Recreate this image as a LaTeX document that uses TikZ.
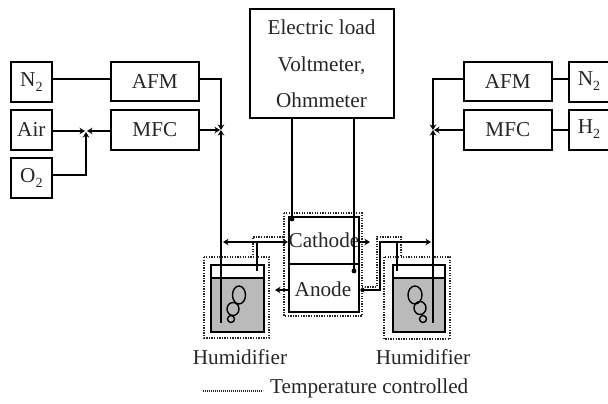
\documentclass[tikz,border=0pt]{standalone}
\usepackage{fontspec}
\setmainfont{Liberation Serif}
\usetikzlibrary{arrows.meta}
\newcommand{\subtwo}{\raisebox{-4.5pt}{\fontsize{14}{14}\selectfont 2}}
\tikzset{
  x=1pt,y=-1pt,
  box/.style={draw,line width=1.7pt,inner sep=0pt,font=\fontsize{21.2}{23}\selectfont,text=black!85},
  lbl/.style={font=\fontsize{21.2}{23}\selectfont,text=black!85,inner sep=0pt},
  pipe/.style={line width=1.7pt},
  arr/.style={pipe,-{Stealth[length=5.5pt,width=6.5pt]}},
  dot/.style={line width=1.7pt,dash pattern=on 1.3pt off 1.3pt,black!85},
  bub/.style={draw,line width=1.4pt}
}
\newcommand{\gbox}[6]{\node[box,minimum width=#4 pt,minimum height=#5 pt,anchor=north west] (#1) at (#2,#3) {#6};}
\begin{document}
\begin{tikzpicture}
\useasboundingbox (0,0) rectangle (608,404);
\clip (0,0) rectangle (608,404);
% gas boxes left
\gbox{nl}{10}{61}{41}{40}{N\subtwo}
\gbox{air}{10}{109}{41}{40}{Air}
\gbox{ox}{10}{157}{41}{40}{O\subtwo}
\gbox{afml}{110}{61}{88}{39}{AFM}
\gbox{mfcl}{110}{109}{88}{40}{MFC}
% right
\gbox{afmr}{463}{61}{88}{39}{AFM}
\gbox{mfcr}{463}{109}{88}{40}{MFC}
\node[box,minimum width=50pt,minimum height=40pt,anchor=north west] (nr) at (568,61) {};
\node[box,minimum width=50pt,minimum height=40pt,anchor=north west] (hr) at (568,109) {};
\node[lbl] (nrt) at (589,81) {N\subtwo};
\node[lbl] (hrt) at (589,129) {H\subtwo};
% load
\node[box,minimum width=144pt,minimum height=109pt,anchor=north west] (load) at (249,8) {};
\node[lbl,anchor=base] (l1) at (321.5,35) {Electric load};
\node[lbl,anchor=base] (l2) at (321.5,71) {Voltmeter,};
\node[lbl,anchor=base] (l3) at (321.5,107) {Ohmmeter};
% dotted
\draw[dot] (284,213) rectangle (362,316);
\draw[dot] (204,257) rectangle (269,338);
\draw[dot] (384,257) rectangle (450,339);
\draw[dot] (253,255) -- (253,237) -- (284,237);
\draw[dot] (362,287) -- (377,287) -- (377,237) -- (401,237) -- (401,255);
% humidifiers
\fill[black!27] (210,278) rectangle (263,331);
\fill[black!27] (392,278) rectangle (444,331);
\node[draw,line width=1.6pt,minimum width=53pt,minimum height=67pt,inner sep=0pt,anchor=north west] (hl) at (210,264) {};
\node[draw,line width=1.6pt,minimum width=52pt,minimum height=67pt,inner sep=0pt,anchor=north west] (hrr) at (392,264) {};
\draw[line width=1.4pt] (210,278) -- (263,278) (392,278) -- (444,278);
\draw[bub] (239,295) ellipse (6.5 and 9);
\draw[bub] (233,309) ellipse (6 and 6.5);
\draw[bub] (231,319) circle (3.5);
\draw[bub] (415,295) ellipse (7 and 9);
\draw[bub] (420,308) ellipse (6 and 6.5);
\draw[bub] (423,319) circle (3.5);
% cell
\node[draw,line width=1.6pt,minimum width=70pt,minimum height=47pt,inner sep=0pt,anchor=north west] (cath) at (288,216) {};
\node[draw,line width=1.6pt,minimum width=70pt,minimum height=48pt,inner sep=0pt,anchor=north west] (an) at (288,263) {};
\node[lbl,anchor=base] (catht) at (324,247) {Cathode};
\node[lbl,anchor=base] (ant) at (323,296) {Anode};
% wires from load
\coordinate (dl) at (292,219);
\coordinate (dr) at (354,271);
\draw[pipe] (load.south -| dl) -- (dl);
\draw[pipe] (load.south -| dr) -- (dr);
\fill (dl) circle (2.4);
\fill (dr) circle (2.4);
% left pipes
\draw[pipe] (nl.east |- 0,79) -- (afml.west |- 0,79);
\draw[arr] (afml.east |- 0,79) -- (221,79) -- (221,130);
\draw[arr] (air.east |- 0,131) -- (85,131);
\draw[arr] (mfcl.west |- 0,131) -- (87,131);
\draw[arr] (ox.east |- 0,175) -- (86,175) -- (86,132);
\draw[arr] (mfcl.east |- 0,130) -- (220,130);
\draw[arr] (221,323) -- (221,130);
% right pipes
\draw[pipe] (afmr.east |- 0,79) -- (nr.west |- 0,79);
\draw[pipe] (mfcr.east |- 0,130) -- (hr.west |- 0,130);
\draw[arr] (afmr.west |- 0,79) -- (433,79) -- (433,130);
\draw[arr] (mfcr.west |- 0,130) -- (434,130);
\draw[arr] (433,323) -- (433,130);
% cell pipes
\draw[arr] (257,242) -- (223,242);
\draw[arr] (257,242) -- (cath.west |- 0,242);
\draw[pipe] (257,242) -- (257,271);
\draw[arr] (cath.west |- 0,290) -- (275,290);
\draw[arr] (cath.east |- 0,242) -- (370,242);
\draw[pipe,{Stealth[length=5pt,width=5pt]}-] (an.east |- 0,290) -- (380,290) -- (380,242) -- (397,242);
\draw[arr] (397,242) -- (431,242);
\draw[pipe] (397,242) -- (397,271);
% labels
\node[lbl,anchor=base] (h1) at (240,364) {Humidifier};
\node[lbl,anchor=base] (h2) at (423,364) {Humidifier};
\coordinate (la) at (203,391);
\coordinate (lb) at (263,391);
\draw[line width=1.5pt,dash pattern=on 1.2pt off 0.8pt,black!85] (la) -- (lb);
\node[lbl,anchor=base west] (tc) at (270,393) {Temperature controlled};
\end{tikzpicture}
\end{document}
